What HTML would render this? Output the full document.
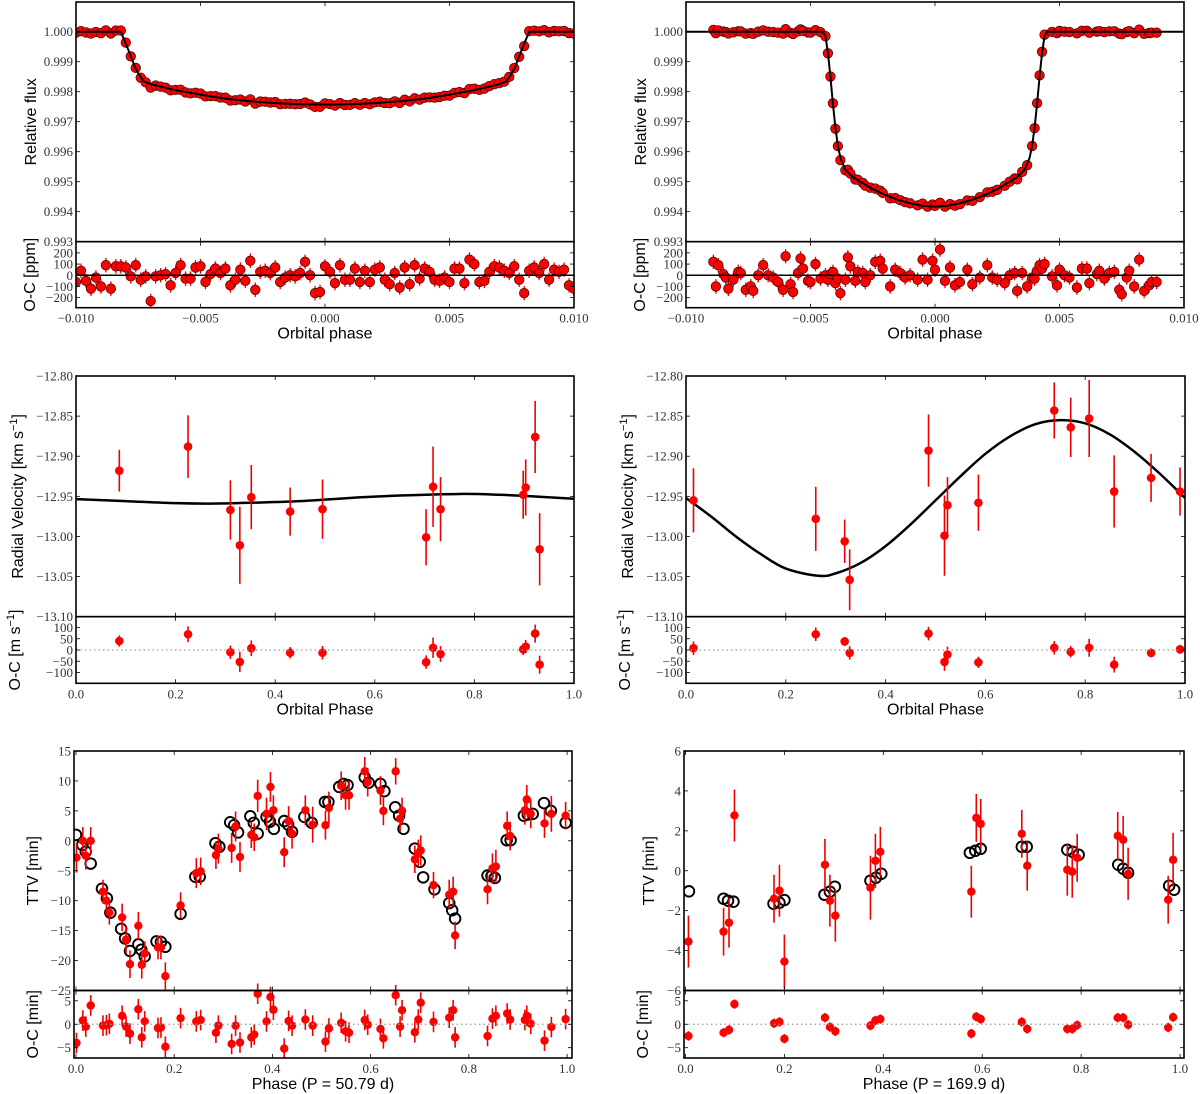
<!DOCTYPE html>
<html><head><meta charset="utf-8">
<style>
html,body{margin:0;padding:0;background:#fff;}
svg{display:block;}
.tk{font-family:"Liberation Serif",serif;font-size:13px;fill:#333;}
.lb{font-family:"Liberation Sans",sans-serif;font-size:16px;fill:#000;}
</style></head>
<body>
<svg id="fig" width="1200" height="1094" viewBox="0 0 1200 1094" xmlns="http://www.w3.org/2000/svg"></svg>
<script>
// ---------- Transit A (top-left) ----------
const tA_modelPh = [-0.0100,-0.0082,-0.0079,-0.0076,-0.0073,-0.0070,-0.0060,-0.0050,-0.0040,-0.0030,-0.0020,-0.0010,0,0.0010,0.0020,0.0030,0.0040,0.0050,0.0060,0.0070,0.0073,0.0076,0.0079,0.0082,0.0100];
const tA_modelFx = [1.0,1.0,0.99940,0.99875,0.99835,0.99825,0.99805,0.99790,0.99777,0.99768,0.99762,0.99758,0.99757,0.99758,0.99762,0.99768,0.99777,0.99790,0.99805,0.99825,0.99835,0.99875,0.99940,1.0,1.0];
const tA_ph = [-0.0100,-0.0098,-0.0096,-0.0094,-0.0092,-0.0090,-0.0088,-0.0086,-0.0084,-0.0082,-0.0080,-0.0078,-0.0076,-0.0074,-0.0072,-0.0070,-0.0068,-0.0066,-0.0064,-0.0062,-0.0060,-0.0058,-0.0056,-0.0054,-0.0052,-0.0050,-0.0048,-0.0046,-0.0044,-0.0042,-0.0040,-0.0038,-0.0036,-0.0034,-0.0032,-0.0030,-0.0028,-0.0026,-0.0024,-0.0022,-0.0020,-0.0018,-0.0016,-0.0014,-0.0012,-0.0010,-0.0008,-0.0006,-0.0004,-0.0002,0,0.0002,0.0004,0.0006,0.0008,0.0010,0.0012,0.0014,0.0016,0.0018,0.0020,0.0022,0.0024,0.0026,0.0028,0.0030,0.0032,0.0034,0.0036,0.0038,0.0040,0.0042,0.0044,0.0046,0.0048,0.0050,0.0052,0.0054,0.0056,0.0058,0.0060,0.0062,0.0064,0.0066,0.0068,0.0070,0.0072,0.0074,0.0076,0.0078,0.0080,0.0082,0.0084,0.0086,0.0088,0.0090,0.0092,0.0094,0.0096,0.0098,0.0100];
const tA_res = [-60,40,-50,-120,-20,-100,90,-120,80,80,70,-10,90,-40,-10,-230,-10,0,10,-90,20,90,-30,-30,70,80,-60,10,60,20,60,-90,-40,50,-50,130,-130,30,40,20,70,-60,-20,0,-10,20,120,0,-160,-150,80,30,-70,90,-40,-40,60,-60,40,-60,50,70,-40,-80,20,-110,70,-80,90,-30,60,30,-40,-50,-20,-60,60,60,-70,140,100,-60,-50,30,80,70,40,20,80,-40,-160,40,70,20,100,-40,50,30,50,-90,-120];

// ---------- Transit B (top-right) ----------
const tB_modelPh = [-0.0100,-0.0045,-0.0044,-0.0043,-0.0042,-0.0041,-0.0040,-0.0039,-0.0038,-0.0036,-0.0033,-0.0030,-0.0025,-0.0020,-0.0015,-0.0010,-0.0005,0,0.0005,0.0010,0.0015,0.0020,0.0025,0.0030,0.0033,0.0036,0.0038,0.0039,0.0040,0.0041,0.0042,0.0043,0.0044,0.0045,0.0100];
const tB_modelFx = [1.0,1.0,0.99985,0.9993,0.9985,0.9976,0.9968,0.9962,0.9958,0.99540,0.99515,0.99500,0.99475,0.99456,0.99440,0.99428,0.99420,0.99417,0.99420,0.99428,0.99440,0.99456,0.99475,0.99500,0.99515,0.99540,0.9958,0.9962,0.9968,0.9976,0.9985,0.9993,0.99985,1.0,1.0];
const tB_ph = [-0.0089,-0.0088,-0.0087,-0.0085,-0.0084,-0.0083,-0.0081,-0.0079,-0.0078,-0.0076,-0.0074,-0.0073,-0.0071,-0.0069,-0.0067,-0.0065,-0.0063,-0.0061,-0.0060,-0.0058,-0.0057,-0.0055,-0.0054,-0.0053,-0.0051,-0.0050,-0.0048,-0.0046,-0.0044,-0.0043,-0.0042,-0.0041,-0.0040,-0.0039,-0.0038,-0.0036,-0.0035,-0.0034,-0.0032,-0.0031,-0.0029,-0.0028,-0.0026,-0.0024,-0.0022,-0.0021,-0.0018,-0.0016,-0.0014,-0.0012,-0.0010,-0.0007,-0.0005,-0.0003,-0.0001,0.0000,0.0002,0.0004,0.0006,0.0008,0.0010,0.0013,0.0015,0.0018,0.0021,0.0023,0.0025,0.0028,0.0030,0.0032,0.0033,0.0035,0.0037,0.0039,0.0040,0.0041,0.0042,0.0043,0.0044,0.0047,0.0049,0.0050,0.0052,0.0054,0.0057,0.0059,0.0061,0.0062,0.0065,0.0066,0.0068,0.0070,0.0072,0.0074,0.0075,0.0077,0.0078,0.0080,0.0082,0.0084,0.0086,0.0087,0.0089];
const tB_res = [120,-100,90,10,-20,-120,-40,30,20,-130,-100,-140,0,90,0,-20,-60,-130,170,-80,-150,20,150,60,-50,-60,100,-30,0,-40,10,30,-70,-30,-160,-40,160,80,-50,30,20,-60,0,120,130,60,-100,50,20,-20,0,-40,140,-40,130,50,230,-50,70,-90,-60,50,-80,-20,90,-20,-40,-70,0,20,-140,20,-100,-20,-30,40,90,60,100,-10,-90,50,0,-20,-110,60,60,-70,10,40,-30,20,30,-130,-170,-20,40,-100,140,-140,-90,-60,-60];

// ---------- RV left ----------
const rvA_ph  = [0.087,0.225,0.310,0.329,0.352,0.430,0.495,0.703,0.717,0.732,0.898,0.903,0.922,0.931];
const rvA_v   = [-12.918,-12.888,-12.967,-13.011,-12.951,-12.969,-12.966,-13.001,-12.938,-12.966,-12.948,-12.939,-12.876,-13.016];
const rvA_err = [0.026,0.039,0.037,0.048,0.040,0.030,0.037,0.035,0.050,0.040,0.030,0.035,0.045,0.045];
const rvA_res = [40,70,-10,-53,8,-12,-12,-54,10,-18,3,15,73,-65];
const rvA_rerr= [25,35,30,45,35,25,30,30,45,35,25,30,40,40];
const rvA_mPh = [0,0.1,0.2,0.27,0.35,0.45,0.55,0.65,0.77,0.85,0.93,1.0];
const rvA_mV  = [-12.9535,-12.956,-12.9585,-12.959,-12.958,-12.956,-12.952,-12.949,-12.947,-12.948,-12.9505,-12.953];

// ---------- RV right ----------
const rvB_ph  = [0.015,0.260,0.318,0.328,0.486,0.518,0.524,0.586,0.738,0.771,0.808,0.858,0.932,0.990];
const rvB_v   = [-12.955,-12.978,-13.006,-13.054,-12.893,-12.999,-12.961,-12.958,-12.843,-12.864,-12.853,-12.944,-12.927,-12.944];
const rvB_err = [0.040,0.040,0.027,0.038,0.045,0.050,0.035,0.035,0.035,0.037,0.048,0.045,0.030,0.030];
const rvB_res = [8,70,38,-13,73,-53,-20,-55,10,-8,10,-65,-13,3];
const rvB_rerr= [30,30,20,30,30,40,35,25,30,25,40,35,20,20];
const rvB_mPh = [0,0.05,0.1,0.15,0.2,0.265,0.3,0.35,0.4,0.45,0.5,0.55,0.6,0.65,0.7,0.75,0.8,0.85,0.9,0.95,1.0];
const rvB_mV  = [-12.952,-12.975,-13.000,-13.022,-13.040,-13.049,-13.046,-13.033,-13.012,-12.985,-12.955,-12.925,-12.897,-12.875,-12.860,-12.855,-12.859,-12.873,-12.895,-12.922,-12.952];

// ---------- TTV left ----------
const ttA_mPh = [0.0,0.013,0.02,0.03,0.053,0.063,0.07,0.092,0.1,0.11,0.127,0.133,0.14,0.164,0.173,0.182,0.213,0.243,0.252,0.284,0.292,0.314,0.322,0.33,0.355,0.362,0.37,0.388,0.395,0.403,0.424,0.432,0.44,0.465,0.48,0.507,0.514,0.536,0.545,0.553,0.588,0.596,0.62,0.628,0.65,0.658,0.667,0.69,0.7,0.707,0.73,0.76,0.766,0.772,0.838,0.846,0.853,0.877,0.885,0.912,0.92,0.93,0.953,0.967,0.997];
const ttA_mV  = [1.0,-0.7,-1.8,-3.8,-8.0,-9.6,-12.0,-14.7,-16.3,-18.4,-17.3,-18.2,-19.3,-16.8,-16.9,-17.7,-12.2,-6.0,-6.0,-0.4,-1.0,3.1,2.6,1.4,4.1,3.0,1.2,4.0,3.2,2.0,3.3,2.7,1.5,4.0,3.0,6.5,6.5,9.0,9.5,9.3,10.6,9.7,9.5,8.3,5.6,4.2,2.0,-1.3,-3.5,-6.1,-8.1,-10.4,-11.6,-13.0,-5.8,-5.9,-6.2,0.1,0.1,4.2,4.4,4.5,6.3,5.0,3.0];
const ttA_ph  = [0.001,0.014,0.02,0.03,0.055,0.062,0.068,0.094,0.102,0.11,0.127,0.134,0.14,0.167,0.173,0.182,0.213,0.245,0.254,0.285,0.29,0.317,0.325,0.334,0.357,0.363,0.37,0.388,0.396,0.402,0.424,0.433,0.44,0.467,0.482,0.508,0.515,0.54,0.549,0.556,0.588,0.594,0.62,0.626,0.651,0.66,0.664,0.69,0.697,0.702,0.728,0.76,0.768,0.772,0.838,0.848,0.855,0.878,0.884,0.914,0.918,0.926,0.954,0.968,0.997];
const ttA_v   = [-2.8,0,-2.5,0,-8.5,-10,-12,-12.8,-16.5,-20.6,-14.2,-20.7,-18.8,-17.8,-17.8,-22.6,-10.8,-5.4,-5.1,-2.4,-1.3,-1.2,2.4,-2.7,1.0,0.6,7.5,4.5,9.0,5.1,-1.9,3.3,1.2,5.1,2.7,2.6,5.5,9.2,7.6,7.6,11.6,9.8,8.4,5.0,11.6,3.7,5.0,-3.1,-2.1,-1.6,-7.4,-9.0,-8.5,-15.8,-8.1,-4.6,-4.3,2.5,0.8,5.1,6.9,4.5,2.9,4.5,4.2];
const ttA_err = [2.5,2.3,2.3,2.3,2,2,2,2.3,2.3,2.3,2.3,2.3,2,2,2,2.3,2.2,2.5,2.3,2.3,2.5,2.5,2.5,2.5,2.2,2.3,2.7,2.7,2.5,2.5,2.5,2.5,2.5,2.5,3,2.4,2.7,2.4,2.4,2.4,2.4,2.4,2.4,2.4,2.2,2.2,2.2,2.3,2.3,2.5,2.2,2.5,2.5,2.3,2.5,2.5,2.8,2.4,2.4,2.4,2.4,2.4,2.4,3,2.3];
const ttA_res = [-4,0.8,-0.5,4.0,-0.3,-0.2,0.1,1.8,-0.5,-2.0,3.2,-2.8,0.6,-0.8,-0.7,-4.8,1.3,0.6,0.9,-1.8,-0.3,-4.2,-0.3,-3.9,-2.8,-2.2,6.5,0.6,5.8,3.1,-5.2,0.7,-0.3,1.0,-0.3,-3.7,-0.9,0.3,-1.5,-1.8,0.9,-0.1,-1.0,-3.0,6.2,-0.5,3.0,-1.7,1.0,4.6,0.5,1.4,3.0,-2.8,-2.5,1.2,1.8,2.3,1.0,0.9,1.8,0.1,-3.5,-0.6,1.1];

// ---------- TTV right ----------
const ttB_mPh = [0.007,0.077,0.086,0.097,0.178,0.19,0.2,0.281,0.292,0.302,0.374,0.385,0.396,0.575,0.586,0.597,0.68,0.69,0.772,0.783,0.795,0.875,0.885,0.895,0.978,0.988];
const ttB_mV  = [-1.03,-1.4,-1.5,-1.55,-1.65,-1.6,-1.47,-1.2,-1.05,-0.8,-0.5,-0.35,-0.15,0.9,1.0,1.1,1.2,1.2,1.05,0.95,0.8,0.3,0.1,-0.1,-0.75,-0.95];
const ttB_ph  = [0.006,0.077,0.088,0.099,0.179,0.19,0.2,0.282,0.292,0.303,0.374,0.384,0.394,0.578,0.588,0.597,0.68,0.691,0.772,0.782,0.792,0.874,0.885,0.895,0.976,0.986];
const ttB_v   = [-3.55,-3.05,-2.6,2.77,-1.4,-1.0,-4.55,0.3,-1.5,-2.25,-0.85,0.5,0.95,-1.05,2.65,2.35,1.85,0.25,0.05,-0.05,0.65,1.75,1.55,-0.15,-1.45,0.55];
const ttB_err = [1.3,1.2,1.25,1.3,1.2,1.3,1.35,1.3,1.3,1.3,1.6,1.35,1.25,1.3,1.2,1.25,1.2,1.25,1.3,1.3,1.2,1.2,1.2,1.3,1.2,1.35];
const ttB_res = [-2.5,-1.8,-1.2,4.3,0.2,0.5,-3.1,1.4,-0.6,-1.5,-0.3,0.8,1.1,-2.0,1.6,1.1,0.5,-1.0,-1.0,-1.0,-0.2,1.4,1.4,-0.1,-0.7,1.5];

const svg = document.getElementById('fig');
const NS = 'http://www.w3.org/2000/svg';
function mk(tag, attrs, parent){
  const e = document.createElementNS(NS, tag);
  for (const k in attrs) e.setAttribute(k, attrs[k]);
  (parent||svg).appendChild(e);
  return e;
}
function interp(xs, ys, x){
  if (x <= xs[0]) return ys[0];
  for (let i=1;i<xs.length;i++){ if (x <= xs[i]){ const t=(x-xs[i-1])/(xs[i]-xs[i-1]); return ys[i-1]+t*(ys[i]-ys[i-1]); } }
  return ys[ys.length-1];
}
function smoothPath(pts){
  let d = 'M'+pts[0][0].toFixed(2)+','+pts[0][1].toFixed(2);
  for (let i=0;i<pts.length-1;i++){
    const p0=pts[Math.max(0,i-1)], p1=pts[i], p2=pts[i+1], p3=pts[Math.min(pts.length-1,i+2)];
    const c1=[p1[0]+(p2[0]-p0[0])/6, p1[1]+(p2[1]-p0[1])/6];
    const c2=[p2[0]-(p3[0]-p1[0])/6, p2[1]-(p3[1]-p1[1])/6];
    d += ' C'+c1[0].toFixed(2)+','+c1[1].toFixed(2)+' '+c2[0].toFixed(2)+','+c2[1].toFixed(2)+' '+p2[0].toFixed(2)+','+p2[1].toFixed(2);
  }
  return d;
}
function fmtTick(v, dec){
  const s = Math.abs(v).toFixed(dec);
  return (v < -1e-12 ? '\u2212' : '') + s;
}

function makePanel(c){
  const g = mk('g', {});
  
  
  const sx = v => c.x0 + (v - c.xd[0])/(c.xd[1]-c.xd[0])*(c.x1-c.x0);
  const sy = v => c.yB - (v - c.yd[0])/(c.yd[1]-c.yd[0])*(c.yB-c.yT);
  const sr = v => c.rB - (v - c.rd[0])/(c.rd[1]-c.rd[0])*(c.rB-c.yB);
  c.sx=sx; c.sy=sy; c.sr=sr; c.g=g;
  return c;
}
function drawFrame(c){
  const g = c.g;
  // zero line in residual
  const zl = mk('line', {x1:c.x0, x2:c.x1, y1:c.sr(0), y2:c.sr(0), stroke: c.zeroSolid ? '#000' : '#999', 'stroke-width': c.zeroSolid ? 1.6 : 1.2, 'stroke-dasharray': c.zeroSolid ? 'none' : '1.5,3'}, g);
  
  
  // ticks
  const tg = mk('g', {stroke:'#000','stroke-width':0.8}, g);
  
  
  c.xt.forEach(v => {
    const x = c.sx(v);
    [[c.yT,1],[c.yB,-1],[c.yB,1],[c.rB,-1]].forEach(([y,dir]) => mk('line',{x1:x,x2:x,y1:y,y2:y+dir*4},tg));
  });
  c.yt.forEach(v => { const y=c.sy(v); mk('line',{x1:c.x0,x2:c.x0+4,y1:y,y2:y},tg); mk('line',{x1:c.x1,x2:c.x1-4,y1:y,y2:y},tg); });
  c.rt.forEach(v => { const y=c.sr(v); mk('line',{x1:c.x0,x2:c.x0+4,y1:y,y2:y},tg); mk('line',{x1:c.x1,x2:c.x1-4,y1:y,y2:y},tg); });
  // tick labels
  c.xt.forEach(v => {
    const t = mk('text',{x:c.sx(v), y:c.rB+15, 'text-anchor':'middle', class:'tk'}, g);
    t.textContent = fmtTick(v, c.xdec);
    
    
  });
  c.yt.forEach(v => {
    const t = mk('text',{x:c.x0-3, y:c.sy(v)+4.5, 'text-anchor':'end', class:'tk'}, g);
    t.textContent = fmtTick(v, c.ydec);
    
    
  });
  c.rt.forEach(v => {
    const t = mk('text',{x:c.x0-3, y:c.sr(v)+4.5, 'text-anchor':'end', class:'tk'}, g);
    t.textContent = fmtTick(v, 0);
    
    
  });
  // frames
  const f1 = mk('rect',{x:c.x0,y:c.yT,width:c.x1-c.x0,height:c.yB-c.yT,fill:'none',stroke:'#000','stroke-width':1.6}, g);
  
  
  const f2 = mk('rect',{x:c.x0,y:c.yB,width:c.x1-c.x0,height:c.rB-c.yB,fill:'none',stroke:'#000','stroke-width':1.6}, g);
  
  
  // labels
  const xl = mk('text',{x:(c.x0+c.x1)/2, y:c.rB+31, 'text-anchor':'middle', class:'lb'}, g);
  xl.textContent = c.xlabel;
  
  
  const yl = mk('text',{x:0,y:0,'text-anchor':'middle',class:'lb',transform:'translate('+c.ylx+','+((c.yT+c.yB)/2)+') rotate(-90)'}, g);
  yl.innerHTML = c.ylabel;
  
  
  const rl = mk('text',{x:0,y:0,'text-anchor':'middle',class:'lb',transform:'translate('+c.rlx+','+((c.yB+c.rB)/2)+') rotate(-90)'}, g);
  rl.innerHTML = c.rlabel;
  
  
}
function clipFor(c, id){
  const cp = mk('clipPath',{id:id});
  mk('rect',{x:c.x0,y:c.yT,width:c.x1-c.x0,height:c.rB-c.yT},cp);
  return 'url(#'+id+')';
}

// ================= Transit panels =================
function transitPanel(c, ph, res, mph, mfx){
  makePanel(c);
  const clip = clipFor(c, c.name+'-clip');
  const dg = mk('g',{'clip-path':clip}, c.g);
  
  
  // residual error bars + points
  ph.forEach((p,i) => {
    const x = c.sx(p);
    const yr = c.sr(res[i]);
    const eb = mk('line',{x1:x,x2:x,y1:c.sr(res[i]+65),y2:c.sr(res[i]-65),stroke:'#f00','stroke-width':1.3}, dg);
    
    
  });
  ph.forEach((p,i) => {
    const pt = mk('circle',{cx:c.sx(p),cy:c.sr(res[i]),r:4.8,fill:'#f00',stroke:'#400','stroke-width':0.7}, dg);
    
    
  });
  // flux points
  ph.forEach((p,i) => {
    const f = interp(mph, mfx, p) + res[i]*1e-6*0.5;
    const pt = mk('circle',{cx:c.sx(p),cy:c.sy(f),r:4.8,fill:'#f00',stroke:'#400','stroke-width':0.7}, dg);
    
    
  });
  // model line
  const d = mph.map((p,i)=>(i?'L':'M')+c.sx(p).toFixed(2)+','+c.sy(mfx[i]).toFixed(2)).join(' ');
  const ml = mk('path',{d:d,fill:'none',stroke:'#000','stroke-width':2}, dg);
  
  
  drawFrame(c);
}
const transitTicksX = [-0.010,-0.005,0,0.005,0.010];
const transitTicksY = [1.000,0.999,0.998,0.997,0.996,0.995,0.994,0.993];
const transitTicksR = [200,100,0,-100,-200];
transitPanel({name:'transit-panel-a', x0:76,x1:574,yT:2,yB:241.7,rB:307.7, xd:[-0.010,0.010], yd:[0.993,1.00099], rd:[-290,300],
  xt:transitTicksX, yt:transitTicksY, rt:transitTicksR, xdec:3, ydec:3, zeroSolid:true,
  xlabel:'Orbital phase', ylabel:'Relative flux', rlabel:'O-C [ppm]', ylx:36, rlx:35}, tA_ph, tA_res, tA_modelPh, tA_modelFx);
transitPanel({name:'transit-panel-b', x0:686,x1:1184,yT:2,yB:241.7,rB:307.7, xd:[-0.010,0.010], yd:[0.993,1.00099], rd:[-290,300],
  xt:transitTicksX, yt:transitTicksY, rt:transitTicksR, xdec:3, ydec:3, zeroSolid:true,
  xlabel:'Orbital phase', ylabel:'Relative flux', rlabel:'O-C [ppm]', ylx:646, rlx:645}, tB_ph, tB_res, tB_modelPh, tB_modelFx);

// ================= RV panels =================
function rvPanel(c, ph, v, err, res, rerr, mph, mv){
  makePanel(c);
  const clip = clipFor(c, c.name+'-clip');
  const dg = mk('g',{'clip-path':clip}, c.g);
  
  
  const pts = mph.map((p,i)=>[c.sx(p), c.sy(mv[i])]);
  const ml = mk('path',{d:smoothPath(pts),fill:'none',stroke:'#000','stroke-width':2.5}, dg);
  
  
  ph.forEach((p,i)=>{
    const x=c.sx(p);
    const eb = mk('line',{x1:x,x2:x,y1:c.sy(v[i]+err[i]),y2:c.sy(v[i]-err[i]),stroke:'#e00','stroke-width':1.6}, dg);
    
    
    const pt = mk('circle',{cx:x,cy:c.sy(v[i]),r:4.3,fill:'#f00'}, dg);
    
    
    const rb = mk('line',{x1:x,x2:x,y1:c.sr(res[i]+rerr[i]),y2:c.sr(res[i]-rerr[i]),stroke:'#e00','stroke-width':1.6}, dg);
    
    
    const rp = mk('circle',{cx:x,cy:c.sr(res[i]),r:4.3,fill:'#f00'}, dg);
    
    
  });
  drawFrame(c);
}
const rvTicksX = [0,0.2,0.4,0.6,0.8,1.0];
const rvTicksY = [-12.80,-12.85,-12.90,-12.95,-13.00,-13.05,-13.10];
const rvTicksR = [100,50,0,-50,-100];
rvPanel({name:'rv-panel-a', x0:76,x1:574,yT:376,yB:616.7,rB:683.3, xd:[0,1], yd:[-13.10,-12.80], rd:[-148,148],
  xt:rvTicksX, yt:rvTicksY, rt:rvTicksR, xdec:1, ydec:2, zeroSolid:false,
  xlabel:'Orbital Phase', ylabel:'Radial Velocity [km s<tspan dy="-6" font-size="11">\u22121</tspan><tspan dy="6">]</tspan>', rlabel:'O-C [m s<tspan dy="-6" font-size="11">\u22121</tspan><tspan dy="6">]</tspan>', ylx:23, rlx:20},
  rvA_ph, rvA_v, rvA_err, rvA_res, rvA_rerr, rvA_mPh, rvA_mV);
rvPanel({name:'rv-panel-b', x0:686,x1:1185,yT:376,yB:616.7,rB:683.3, xd:[0,1], yd:[-13.10,-12.80], rd:[-148,148],
  xt:rvTicksX, yt:rvTicksY, rt:rvTicksR, xdec:1, ydec:2, zeroSolid:false,
  xlabel:'Orbital Phase', ylabel:'Radial Velocity [km s<tspan dy="-6" font-size="11">\u22121</tspan><tspan dy="6">]</tspan>', rlabel:'O-C [m s<tspan dy="-6" font-size="11">\u22121</tspan><tspan dy="6">]</tspan>', ylx:633, rlx:630},
  rvB_ph, rvB_v, rvB_err, rvB_res, rvB_rerr, rvB_mPh, rvB_mV);

// ================= TTV panels =================
function ttvPanel(c, mph, mv, ph, v, err, res){
  makePanel(c);
  const clip = clipFor(c, c.name+'-clip');
  const dg = mk('g',{'clip-path':clip}, c.g);
  
  
  mph.forEach((p,i)=>{
    const m = mk('circle',{cx:c.sx(p),cy:c.sy(mv[i]),r:5.3,fill:'none',stroke:'#000','stroke-width':1.9}, dg);
    
    
  });
  ph.forEach((p,i)=>{
    const x=c.sx(p);
    const eb = mk('line',{x1:x,x2:x,y1:c.sy(v[i]+err[i]),y2:c.sy(v[i]-err[i]),stroke:'#e00','stroke-width':1.6}, dg);
    
    
    const pt = mk('circle',{cx:x,cy:c.sy(v[i]),r:4.2,fill:'#f00'}, dg);
    
    
    const rb = mk('line',{x1:x,x2:x,y1:c.sr(res[i]+c.rerr),y2:c.sr(res[i]-c.rerr),stroke:'#e00','stroke-width':1.6}, dg);
    
    
    const rp = mk('circle',{cx:x,cy:c.sr(res[i]),r:4.2,fill:'#f00'}, dg);
    
    
  });
  drawFrame(c);
}
ttvPanel({name:'ttv-panel-a', x0:74,x1:572,yT:751,yB:990.5,rB:1058, xd:[-0.004,1.010], yd:[-25,15], rd:[-7.2,7.2], rerr:2.2,
  xt:[0,0.2,0.4,0.6,0.8,1.0], yt:[15,10,5,0,-5,-10,-15,-20,-25], rt:[5,0,-5], xdec:1, ydec:0, zeroSolid:false,
  xlabel:'Phase (P = 50.79 d)', ylabel:'TTV [min]', rlabel:'O-C [min]', ylx:38, rlx:38},
  ttA_mPh, ttA_mV, ttA_ph, ttA_v, ttA_err, ttA_res);
ttvPanel({name:'ttv-panel-b', x0:684,x1:1184,yT:751,yB:990.5,rB:1058, xd:[-0.003,1.008], yd:[-6,6], rd:[-7.2,7.2], rerr:1.0,
  xt:[0,0.2,0.4,0.6,0.8,1.0], yt:[6,4,2,0,-2,-4,-6], rt:[5,0,-5], xdec:1, ydec:0, zeroSolid:false,
  xlabel:'Phase (P = 169.9 d)', ylabel:'TTV [min]', rlabel:'O-C [min]', ylx:654, rlx:648},
  ttB_mPh, ttB_mV, ttB_ph, ttB_v, ttB_err, ttB_res);
</script>
</body></html>
